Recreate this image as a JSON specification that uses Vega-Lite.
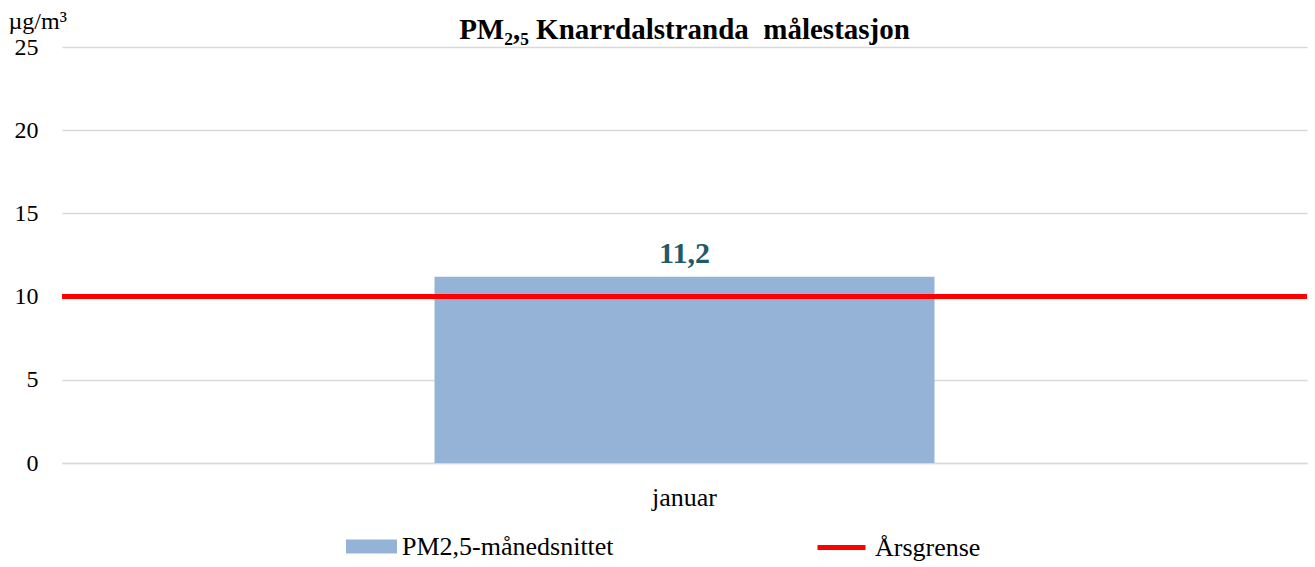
{
  "$schema": "https://vega.github.io/schema/vega-lite/v6.json",
  "autosize": {"type": "none"},
  "padding": {"left": 62, "top": 47, "right": 8, "bottom": 104},
  "width": 1245,
  "height": 416,
  "background": "white",
  "title": {
    "text": "PM₂,₅ Knarrdalstranda\u00a0 målestasjon",
    "font": "Liberation Serif",
    "fontSize": 29,
    "fontWeight": "bold",
    "color": "#000000",
    "anchor": "middle",
    "baseline": "alphabetic",
    "offset": -59
  },
  "data": {"values": [{"month": "januar", "value": 11.2, "limit": 10}]},
  "encoding": {
    "x": {
      "field": "month",
      "type": "nominal",
      "scale": {"paddingInner": 0, "paddingOuter": 0.745},
      "axis": {
        "title": null,
        "labelAngle": 0,
        "ticks": false,
        "domain": true,
        "domainColor": "#D9D9D9",
        "domainWidth": 1.5,
        "labelFont": "Liberation Serif",
        "labelFontSize": 26,
        "labelColor": "#000000",
        "labelPadding": 21
      }
    }
  },
  "layer": [
    {
      "mark": {"type": "bar"},
      "encoding": {
        "y": {
          "field": "value",
          "type": "quantitative",
          "scale": {"domain": [0, 25], "nice": false},
          "axis": {
            "title": "µg/m³",
            "titleAngle": 0,
            "titleAlign": "left",
            "titleBaseline": "alphabetic",
            "titleX": -54,
            "titleY": -19,
            "titleFont": "Liberation Serif",
            "titleFontSize": 24,
            "titleFontWeight": "normal",
            "titleColor": "#000000",
            "values": [0, 5, 10, 15, 20, 25],
            "domain": false,
            "ticks": false,
            "grid": true,
            "gridColor": "#D9D9D9",
            "gridWidth": 1.5,
            "labelFont": "Liberation Serif",
            "labelFontSize": 24,
            "labelColor": "#000000",
            "labelPadding": 24
          }
        },
        "fill": {
          "datum": "PM2,5-månedsnittet",
          "scale": {"range": ["#95B3D7"]},
          "legend": {
            "title": null,
            "orient": "none",
            "legendX": 284,
            "legendY": 474,
            "symbolType": "M-1,-0.275H1V0.275H-1Z",
            "symbolSize": 2601,
            "symbolStrokeWidth": 0,
            "symbolOpacity": 1,
            "labelFont": "Liberation Serif",
            "labelFontSize": 26,
            "labelLimit": 500,
            "labelColor": "#000000",
            "labelOffset": 5,
            "padding": 0
          }
        }
      }
    },
    {
      "mark": {"type": "rule", "strokeWidth": 5},
      "encoding": {
        "y": {"field": "limit", "type": "quantitative"},
        "x": null,
        "stroke": {
          "datum": "Årsgrense",
          "scale": {"range": ["#FF0000"]},
          "legend": {
            "title": null,
            "orient": "none",
            "legendX": 753,
            "legendY": 474,
            "symbolType": "stroke",
            "symbolSize": 2304,
            "symbolStrokeWidth": 5,
            "labelFont": "Liberation Serif",
            "labelFontSize": 26,
            "labelLimit": 500,
            "labelColor": "#000000",
            "labelOffset": 7,
            "padding": 0
          }
        }
      }
    },
    {
      "mark": {
        "type": "text",
        "font": "Liberation Serif",
        "fontSize": 30,
        "fontWeight": "bold",
        "color": "#215968",
        "baseline": "alphabetic",
        "dy": -14
      },
      "encoding": {
        "y": {"field": "value", "type": "quantitative"},
        "text": {"field": "value", "type": "quantitative", "format": ".1f"}
      }
    }
  ],
  "config": {
    "view": {"stroke": null},
    "locale": {"number": {"decimal": ",", "thousands": " ", "grouping": [3], "currency": ["", " kr"]}}
  }
}
